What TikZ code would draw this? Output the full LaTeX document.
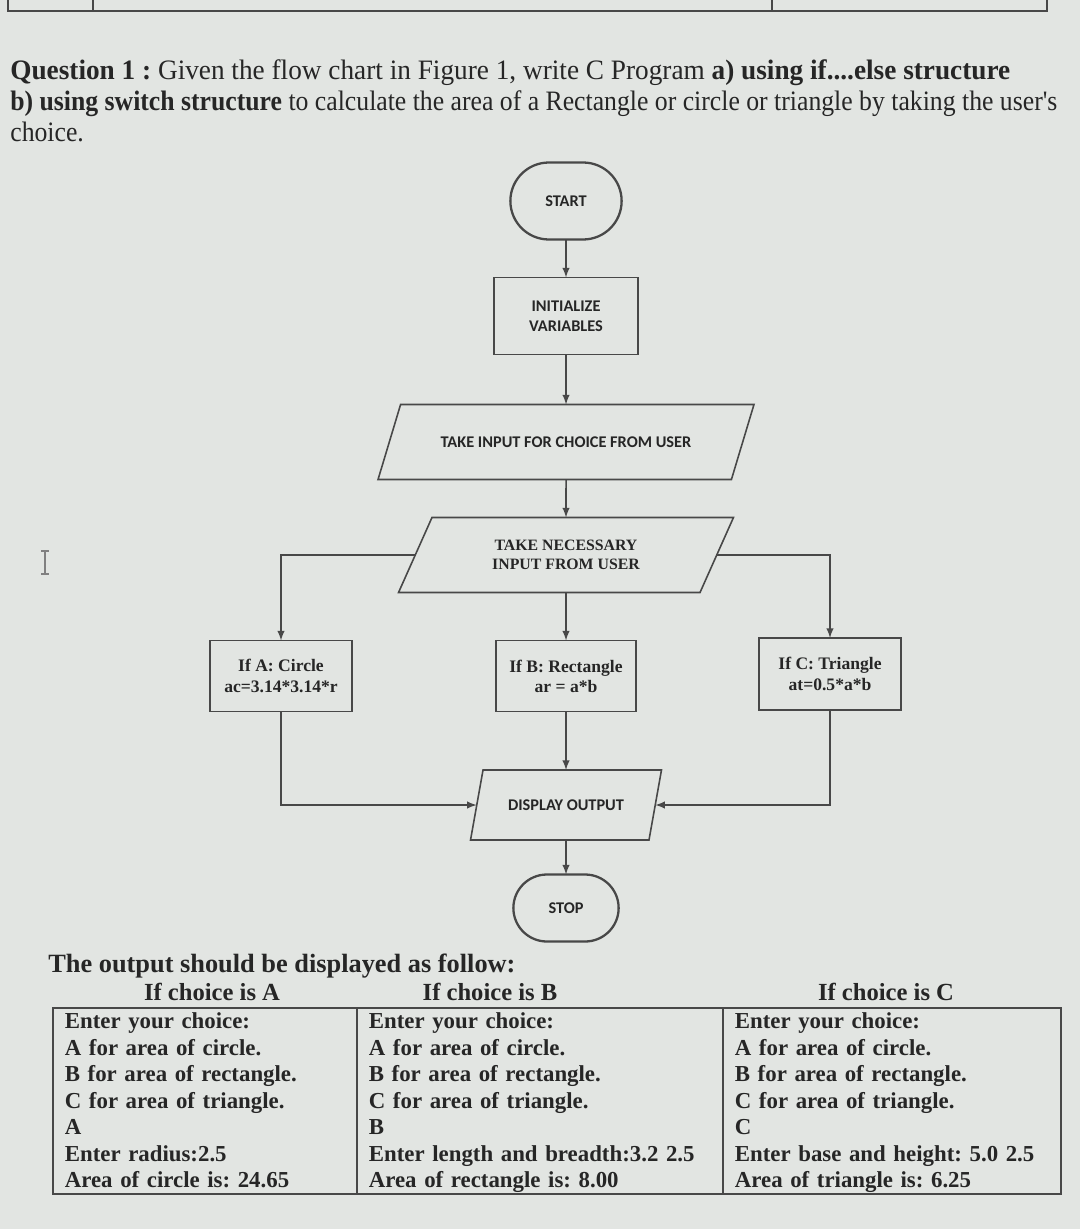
\documentclass[tikz,border=0pt]{standalone}
\usepackage{fontspec}
\setmainfont{Liberation Serif}
\newfontfamily\flowsans{Carlito}
\newfontfamily\qfont[FakeStretch=0.97]{Liberation Serif}
\newfontfamily\qfontnarrow[FakeStretch=0.915]{Liberation Serif}
\usepackage{xcolor}
\usepackage{tikz}
\usetikzlibrary{shapes.geometric, shapes.misc, positioning}
\frenchspacing

\definecolor{paper}{RGB}{226,229,226}
\definecolor{ink}{RGB}{38,38,38}
\definecolor{linegray}{RGB}{72,72,72}

\tikzset{
  terminal/.style={rounded rectangle, draw=linegray, line width=1.3pt, outer sep=0pt,
    minimum width=2.46cm, minimum height=1.54cm, text=ink,
    font=\flowsans\bfseries\fontsize{9.3}{10}\selectfont},
  process/.style={rectangle, draw=linegray, line width=0.9pt, outer sep=0pt, align=center,
    text=ink, font=\flowsans\bfseries\fontsize{9.3}{11.3}\selectfont},
  io/.style={trapezium, trapezium stretches body, draw=linegray, line width=0.9pt,
    outer sep=0pt, align=center, text=ink},
  casebox/.style={rectangle, draw=linegray, line width=0.9pt, outer sep=0pt, align=center,
    minimum width=2.84cm, minimum height=1.42cm, text=ink,
    font=\bfseries\fontsize{10}{11.5}\selectfont},
  flow/.style={->, draw=linegray, line width=0.9pt},
  cell/.style={rectangle, draw=linegray, line width=1pt, anchor=north west, align=left,
    inner xsep=0.24cm, inner ysep=-3pt, minimum height=3.72cm, text=ink,
    font=\bfseries\fontsize{13}{15.1}\selectfont},
  colhead/.style={text=ink, font=\bfseries\fontsize{14}{16}\selectfont, inner sep=0pt, anchor=base},
  qline/.style={anchor=base west, inner sep=0pt, text=ink},
}

\begin{document}
\begin{tikzpicture}[x=0.02cm, y=-0.02cm, >=latex]
    % fond de la photo
    \fill[paper] (0,0) rectangle (1080,1229);
    \useasboundingbox (0,0) rectangle (1080,1229);

    % bas du tableau du haut
    \draw[linegray, line width=1.4pt] (8,0) -- (8,11) -- (1047,11) -- (1047,0);
    \draw[linegray, line width=0.8pt] (93,0) -- (93,11);
    \draw[linegray, line width=0.8pt] (772,0) -- (772,11);

    % enonce
    \node[qline, font=\qfont\fontsize{16}{18}\selectfont] (q1) at (10,80)
      {\textbf{Question 1 :} Given the flow chart in Figure 1, write C Program \textbf{a) using if....else structure}};
    \node[qline, font=\qfontnarrow\fontsize{16}{18}\selectfont] (q2) at (10,111)
      {\textbf{b) using switch structure} to calculate the area of a Rectangle or circle or triangle by taking the user's};
    \node[qline, font=\qfontnarrow\fontsize{16}{18}\selectfont] (q3) at (10,142)
      {choice.};

    % curseur
    \draw[gray, line width=0.6pt] (45,552) -- (45,573) (41,551) -- (49,551) (41,574) -- (49,574);

    % organigramme
    \node[terminal] (start) at (566,201) {START};
    \node[process, minimum width=2.88cm, minimum height=1.54cm] (init) at (566,316) {INITIALIZE\\VARIABLES};
    \node[io, trapezium left angle=45, trapezium right angle=135, minimum width=7.52cm, minimum height=1.5cm,
      font=\flowsans\bfseries\fontsize{9.3}{10}\selectfont] (choice) at (566,442) {TAKE INPUT FOR CHOICE FROM USER};
    \node[io, trapezium left angle=51, trapezium right angle=129, minimum width=6.7cm, minimum height=1.5cm,
      font=\bfseries\fontsize{9}{10.8}\selectfont] (need) at (566,555) {TAKE NECESSARY\\INPUT FROM USER};
    \node[casebox] (caseA) at (281,676) {If A: Circle\\ac=3.14*3.14*r};
    \node[casebox, minimum width=2.8cm] (caseB) at (566,676) {If B: Rectangle\\ar = a*b};
    \node[casebox, minimum height=1.44cm] (caseC) at (830,674) {If C: Triangle\\at=0.5*a*b};
    \node[io, trapezium left angle=61, trapezium right angle=119, minimum width=3.82cm, minimum height=1.4cm,
      font=\flowsans\bfseries\fontsize{9.3}{10}\selectfont] (disp) at (566,805) {DISPLAY OUTPUT};
    \node[terminal, minimum width=2.34cm, minimum height=1.34cm] (stop) at (566,908) {STOP};

    \draw[flow] (start) -- (init);
    \draw[flow] (init) -- (choice);
    \draw[flow] (choice) -- (need);
    \draw[flow] (need.left side) -| (caseA);
    \draw[flow] (need) -- (caseB);
    \draw[flow] (need.right side) -| (caseC);
    \draw[flow] (caseA) |- (disp.left side);
    \draw[flow] (caseB) -- (disp);
    \draw[flow] (caseC) |- (disp.right side);
    \draw[flow] (disp) -- (stop);

    % sorties attendues
    \node[anchor=base west, inner sep=0pt, text=ink, font=\bfseries\fontsize{15}{18}\selectfont] (outhead) at (48,972)
      {The output should be displayed as follow:};
    \node[colhead] (headA) at (212,1000) {If choice is A};
    \node[colhead] (headB) at (490,1000) {If choice is B};
    \node[colhead] (headC) at (886,1000) {If choice is C};

    \node[cell, text width=5.6cm] (outA) at (52,1007)
      {\rule{0pt}{13pt}Enter your choice:\\A for area of circle.\\B for area of rectangle.\\C for area of triangle.\\A\\Enter radius:2.5\\Area of circle is: 24.65\strut};
    \node[cell, text width=6.84cm] (outB) at (356,1007)
      {\rule{0pt}{13pt}Enter your choice:\\A for area of circle.\\B for area of rectangle.\\C for area of triangle.\\B\\Enter length and breadth:3.2 2.5\\Area of rectangle is: 8.00\strut};
    \node[cell, text width=6.28cm] (outC) at (722,1007)
      {\rule{0pt}{13pt}Enter your choice:\\A for area of circle.\\B for area of rectangle.\\C for area of triangle.\\C\\Enter base and height: 5.0 2.5\\Area of triangle is: 6.25\strut};
\end{tikzpicture}
\end{document}
